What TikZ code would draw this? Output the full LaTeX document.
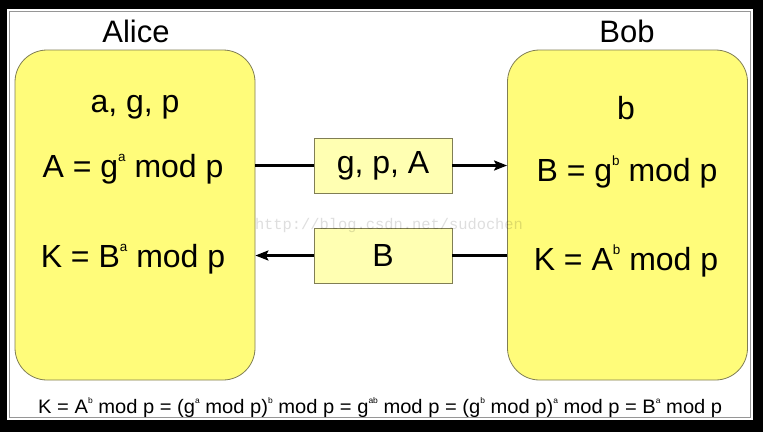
\documentclass[tikz,border=0pt]{standalone}
\usepackage{fontspec}
\setmainfont{Liberation Sans}
\newfontfamily\wmfont{Liberation Mono}
\usepackage{graphicx}
\usetikzlibrary{arrows.meta}
\definecolor{boxyellow}{RGB}{255,252,122}
\definecolor{paleyellow}{RGB}{255,255,178}
\definecolor{boxline}{RGB}{128,126,84}
\definecolor{frameline}{RGB}{150,150,150}
\newcommand\spx[1]{\raisebox{0.5em}{\scalebox{0.42}{#1}}}
\tikzset{
  party/.style={draw=boxline, line width=0.8pt, fill=boxyellow, rounded corners=32pt,
    minimum width=240pt, minimum height=330pt, inner sep=0pt},
  msgbox/.style={draw=boxline, line width=0.8pt, fill=paleyellow,
    minimum width=138pt, minimum height=55pt, inner sep=0pt,
    font=\fontsize{32}{38}\selectfont},
  title/.style={anchor=base, inner sep=0pt, font=\fontsize{31}{36}\selectfont},
  eqtext/.style={anchor=base, inner sep=0pt, font=\fontsize{32}{38}\selectfont},
  conn/.style={line width=2.4pt, black},
  tip/.style={-{Stealth[length=13pt,width=10pt,inset=2.5pt]}}
}
\begin{document}
\begin{tikzpicture}[x=1pt,y=-1pt]
\useasboundingbox (0,0) rectangle (763,432);
\fill[black] (0,0) rectangle (763,432);
\fill[white] (7,9) rectangle (753,420);
\draw[frameline, line width=0.8pt] (9.5,11.5) rectangle (750.5,417.5);

\node[title] (alicet) at (136,42) {Alice};
\node[title] (bobt) at (627,42) {Bob};

\node[party] (alicebox) at (135,215) {};
\node[party] (bobbox) at (627.5,215) {};

\node[eqtext] (a1) at (135,112) {a, g, p};
\node[eqtext] (a2) at (133,177) {A = g\spx{a} mod p};
\node[eqtext] (a3) at (133,267) {K = B\spx{a} mod p};

\node[eqtext] (b1) at (626,119) {b};
\node[eqtext] (b2) at (627,181) {B = g\spx{b} mod p};
\node[eqtext] (b3) at (626,270) {K = A\spx{b} mod p};

\node[msgbox] (gpa) at (383,165.5) {g, p, A};
\node[msgbox] (bmsg) at (383,255.5) {B};

\draw[conn] (gpa.west -| alicebox.east) -- (gpa.west);
\draw[conn,tip] (gpa.east) -- (gpa.east -| bobbox.west);
\draw[conn] (bmsg.east -| bobbox.west) -- (bmsg.east);
\draw[conn,tip] (bmsg.west) -- (bmsg.west -| alicebox.east);

\node[anchor=base west, inner sep=0pt, font=\fontsize{19.5}{24}\selectfont] (formula) at (38,413)
  {\resizebox{684pt}{\height}{K = A\spx{b} mod p = (g\spx{a} mod p)\spx{b} mod p = g\spx{ab} mod p = (g\spx{b} mod p)\spx{a} mod p = B\spx{a} mod p}};

\node[anchor=center, inner sep=0pt, opacity=0.13, font=\wmfont\fontsize{15.4}{18}\selectfont] (wm) at (389,226) {http://blog.csdn.net/sudochen};
\end{tikzpicture}
\end{document}
